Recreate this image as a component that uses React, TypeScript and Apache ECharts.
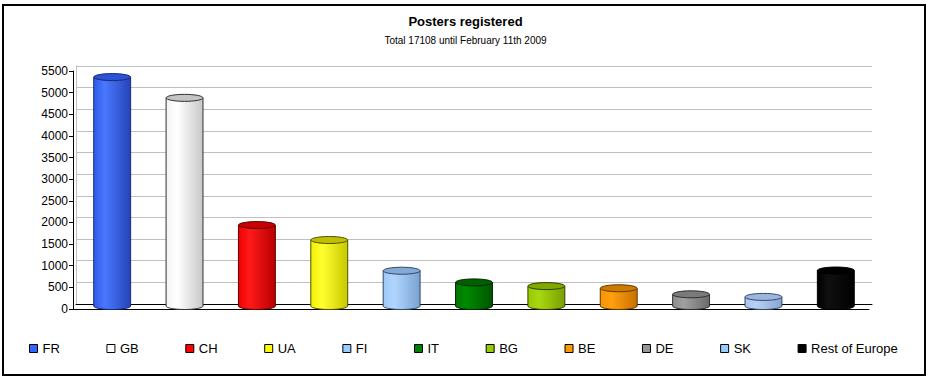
import React, { useEffect, useRef } from "react";
import * as echarts from "echarts";

const categories = ["FR", "GB", "CH", "UA", "FI", "IT", "BG", "BE", "DE", "SK", "Rest of Europe"];
const posters = [5290, 4810, 1870, 1525, 815, 545, 460, 410, 270, 210, 820];
const yTicks = { min: 0, max: 5500, interval: 500 };

// [legend colour, body light, body mid, body dark, top colour, edge colour]
const palette: string[][] = [
  ["#3366ff", "#2f5ae8", "#4a78ff", "#2444b8", "#2c52d6", "#1a2a78"],
  ["#ffffff", "#f4f4f4", "#ffffff", "#c8c8c8", "#c4c4c4", "#303030"],
  ["#ff0000", "#f00000", "#ff1a1a", "#b80000", "#c80000", "#600000"],
  ["#ffff00", "#f0f000", "#ffff30", "#c8c800", "#c0c000", "#505000"],
  ["#99ccff", "#9ec8f4", "#b0d6ff", "#7aa2d0", "#86aad6", "#304868"],
  ["#008000", "#007800", "#008a00", "#005400", "#006000", "#002800"],
  ["#99cc00", "#98c800", "#a8d810", "#78a000", "#80a800", "#304000"],
  ["#ff9900", "#f89400", "#ffa010", "#c87000", "#cc7a00", "#603800"],
  ["#969696", "#8c8c8c", "#a0a0a0", "#6a6a6a", "#7a7a7a", "#303030"],
  ["#99ccff", "#a8c4ec", "#b8d0f4", "#88a4d4", "#9cb6e0", "#304868"],
  ["#000000", "#000000", "#101010", "#000000", "#000000", "#000000"],
];

const FONT = "'Liberation Sans', Arial, sans-serif";

function makeRender(col: string[]) {
  return (_params: any, api: any) => {
    const xi = api.value(0);
    const v = api.value(1);
    const top = api.coord([xi, v]);
    const base = api.coord([xi, 0]);
    const bw = api.size([1, 0])[0] * 0.51;
    const depth = 2;
    const cx = top[0];
    const ty = top[1] + depth;
    const by = base[1] + depth;
    const rx = bw / 2;
    const ry = 3.5;
    const grad = new echarts.graphic.LinearGradient(0, 0, 1, 0, [
      { offset: 0, color: col[1] },
      { offset: 0.3, color: col[2] },
      { offset: 1, color: col[3] },
    ]);
    return {
      type: "group",
      children: [
        { type: "ellipse", shape: { cx, cy: by, rx, ry }, style: { fill: grad, stroke: col[5], lineWidth: 1 } },
        { type: "rect", shape: { x: cx - rx, y: ty, width: 2 * rx, height: by - ty }, style: { fill: grad } },
        { type: "line", shape: { x1: cx - rx, y1: ty, x2: cx - rx, y2: by }, style: { stroke: col[5], lineWidth: 1 } },
        { type: "line", shape: { x1: cx + rx, y1: ty, x2: cx + rx, y2: by }, style: { stroke: col[5], lineWidth: 1 } },
        { type: "ellipse", shape: { cx, cy: ty, rx, ry }, style: { fill: col[4], stroke: col[5], lineWidth: 1 } },
      ],
    };
  };
}

export default function App() {
  const ref = useRef<HTMLDivElement>(null);
  useEffect(() => {
    if (!ref.current) return;
    const chart = echarts.init(ref.current, null, { renderer: "svg" });
    const series = categories.map((c, i) => ({
      type: "custom",
      name: c,
      xAxisIndex: 0,
      yAxisIndex: 0,
      data: [[i, posters[i]]],
      encode: { x: 0, y: 1 },
      itemStyle: { color: palette[i][0] },
      renderItem: makeRender(palette[i]),
    }));
    chart.setOption({
      animation: false,
      backgroundColor: "#ffffff",
      textStyle: { fontFamily: FONT },
      title: {
        text: "Posters registered",
        subtext: "Total 17108 until February 11th 2009",
        left: "center",
        top: 15,
        itemGap: 7,
        padding: 0,
        textStyle: { fontFamily: FONT, fontSize: 13, fontWeight: "bold", color: "#000", lineHeight: 13 },
        subtextStyle: { fontFamily: FONT, fontSize: 10, color: "#000", lineHeight: 10 },
      },
      legend: {
        left: 29,
        top: 342,
        padding: 0,
        icon: "rect",
        itemWidth: 8,
        itemHeight: 8,
        itemGap: 46.6,
        itemStyle: { borderColor: "#000", borderWidth: 1 },
        textStyle: { fontFamily: FONT, fontSize: 13, color: "#000" },
        data: categories,
      },
      grid: [
        { left: 76, right: 59, top: 66, bottom: 76 },
        { left: 73, right: 62, top: 71, bottom: 71 },
      ],
      xAxis: [
        {
          type: "category",
          gridIndex: 0,
          data: categories,
          boundaryGap: true,
          axisLine: { show: true, lineStyle: { color: "#000", width: 1 } },
          axisTick: { show: false },
          axisLabel: { show: false },
          splitLine: { show: false },
        },
        {
          type: "category",
          gridIndex: 1,
          data: categories,
          axisLine: { show: true, lineStyle: { color: "#000", width: 1 } },
          axisTick: { show: false },
          axisLabel: { show: false },
          splitLine: { show: false },
        },
      ],
      yAxis: [
        {
          type: "value",
          gridIndex: 0,
          min: yTicks.min,
          max: yTicks.max,
          interval: yTicks.interval,
          axisLine: { show: true, lineStyle: { color: "#c0c0c0" } },
          axisTick: { show: false },
          axisLabel: { show: false },
          splitLine: { show: true, lineStyle: { color: "#c0c0c0", width: 1 } },
        },
        {
          type: "value",
          gridIndex: 1,
          min: yTicks.min,
          max: yTicks.max,
          interval: yTicks.interval,
          axisLine: { show: true, lineStyle: { color: "#000", width: 1 } },
          axisTick: { show: true, length: 4, lineStyle: { color: "#000" } },
          axisLabel: {
            show: true,
            margin: 5,
            fontFamily: FONT,
            fontSize: 12,
            color: "#000",
            formatter: (v: number) => String(v),
          },
          splitLine: { show: false },
        },
      ],
      graphic: [
        {
          type: "rect",
          shape: { x: 3, y: 5, width: 922, height: 370 },
          style: { fill: "none", stroke: "#000", lineWidth: 2 },
          silent: true,
        },
      ],
      series,
    });
    return () => chart.dispose();
  }, []);
  return (
    <div
      ref={ref}
      style={{ position: "absolute", left: 0, top: 0, width: 931, height: 380 }}
    />
  );
}
